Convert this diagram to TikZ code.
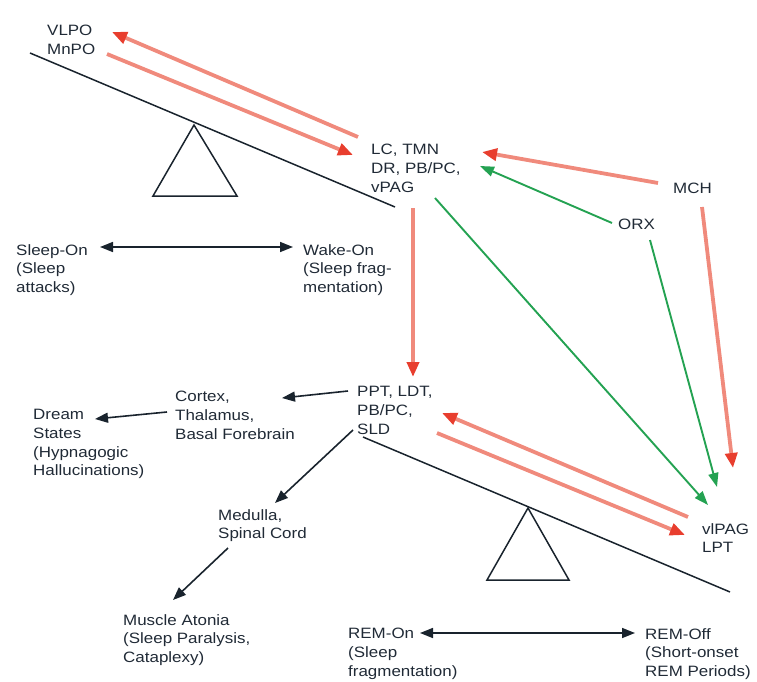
\documentclass[tikz,border=0pt]{standalone}
\usepackage{fontspec}
\setmainfont{Liberation Sans}[FakeStretch=1.13]
\usepackage{xcolor}
\usetikzlibrary{arrows.meta,calc}
\definecolor{txt}{RGB}{32,42,54}
\definecolor{ink}{RGB}{25,35,45}
\definecolor{salmon}{RGB}{240,138,124}
\definecolor{redtip}{RGB}{232,62,46}
\definecolor{grn}{RGB}{36,162,82}
\begin{document}
\begin{tikzpicture}[x=1pt, y=-1pt]
\tikzstyle{lbl}=[anchor=north west, inner sep = 0 pt, align=left, text=txt, font=\fontsize{15}{18.8}\selectfont]
\tikzstyle{bar}=[draw=ink, line width=1.5pt]
\tikzstyle{inh}=[draw=salmon, line width=3.8pt, -{Triangle[length=15pt, width=12pt, color=redtip]}]
\tikzstyle{exc}=[draw=grn, line width=1.9pt, -{Triangle[length=14pt, width=10pt]}]
\tikzstyle{blk}=[draw=ink, line width=1.6pt, -{Triangle[length=13pt, width=10pt]}]
\tikzstyle{both}=[draw=ink, line width=1.6pt, {Triangle[length=13pt, width=10pt]}-{Triangle[length=13pt, width=10pt]}]
\useasboundingbox (0,0) rectangle (757,682);

% text nodes
\node[lbl] (vlpo) at (47,25) {VLPO\\MnPO};
\node[lbl] (lc) at (371,144) {LC, TMN\\DR, PB/PC,\\vPAG};
\node[lbl] (slon) at (16,244) {Sleep-On\\(Sleep\\attacks)};
\node[lbl] (wkon) at (303,244) {Wake-On\\(Sleep frag-\\mentation)};
\node[lbl] (mch) at (673,183) {MCH};
\node[lbl] (orx) at (618,219) {ORX};
\node[lbl] (ppt) at (357,386) {PPT, LDT,\\PB/PC,\\SLD};
\node[lbl] (ctx) at (175,391) {Cortex,\\Thalamus,\\Basal Forebrain};
\node[lbl] (drm) at (33,409) {Dream\\States\\(Hypnagogic\\Hallucinations)};
\node[lbl] (med) at (218,509) {Medulla,\\Spinal Cord};
\node[lbl] (atn) at (123,614) {Muscle Atonia\\(Sleep Paralysis,\\Cataplexy)};
\node[lbl] (vlpag) at (702,523) {vlPAG\\LPT};
\node[lbl] (remon) at (348,628) {REM-On\\(Sleep\\fragmentation)};
\node[lbl] (remoff) at (645,628) {REM-Off\\(Short-onset\\REM Periods)};

% connector ends
\coordinate (vlpo-in) at (112,32);  \coordinate (vlpo-out) at (107,54);
\coordinate (lc-out) at (358,137);  \coordinate (lc-in) at (353,155);
\coordinate (lc-mch) at (482,152);  \coordinate (lc-orx) at (480,166);
\coordinate (lc-down) at (413,208); \coordinate (lc-diag) at (435,198);
\coordinate (mch-w) at (658,183);   \coordinate (mch-s) at (702,207);
\coordinate (orx-w) at (612,223);   \coordinate (orx-s) at (650,240);
\coordinate (ppt-n) at (413,377);   \coordinate (ppt-w) at (348,391);
\coordinate (ppt-sw) at (353,430);  \coordinate (ppt-in) at (442,413);
\coordinate (ppt-out) at (437,433);
\coordinate (vl-out) at (688,517);  \coordinate (vl-in) at (685,535);
\coordinate (vl-lc) at (708,505);   \coordinate (vl-orx) at (717,487);
\coordinate (vl-mch) at (733,468);
\coordinate (ctx-e) at (282,398);   \coordinate (ctx-w) at (167,412);
\coordinate (drm-e) at (95,419);
\coordinate (med-n) at (275,503);   \coordinate (med-s) at (228,548);
\coordinate (atn-n) at (173,600);
\coordinate (slon-e) at (100,247);  \coordinate (wkon-w) at (293,247);
\coordinate (remon-e) at (420,633); \coordinate (remoff-w) at (635,633);

% seesaws
\draw[bar] (30,53) -- (395,207);
\draw[bar] (194,125) -- (153,196) -- (237,196) -- cycle;
\draw[bar] (363,437) -- (730,592);
\draw[bar] (528,508) -- (487,580) -- (569,580) -- cycle;

% red (inhibition)
\draw[inh] (lc-out) -- (vlpo-in);
\draw[inh] (vlpo-out) -- (lc-in);
\draw[inh] (mch-w) -- (lc-mch);
\draw[inh] (lc-down) -- (ppt-n);
\draw[inh] (mch-s) -- (vl-mch);
\draw[inh] (vl-out) -- (ppt-in);
\draw[inh] (ppt-out) -- (vl-in);

% green (excitation)
\draw[exc] (orx-w) -- (lc-orx);
\draw[exc] (lc-diag) -- (vl-lc);
\draw[exc] (orx-s) -- (vl-orx);

% black
\draw[both] (slon-e) -- (wkon-w);
\draw[both] (remon-e) -- (remoff-w);
\draw[blk] (ppt-w) -- (ctx-e);
\draw[blk] (ctx-w) -- (drm-e);
\draw[blk] (ppt-sw) -- (med-n);
\draw[blk] (med-s) -- (atn-n);
\end{tikzpicture}
\end{document}
